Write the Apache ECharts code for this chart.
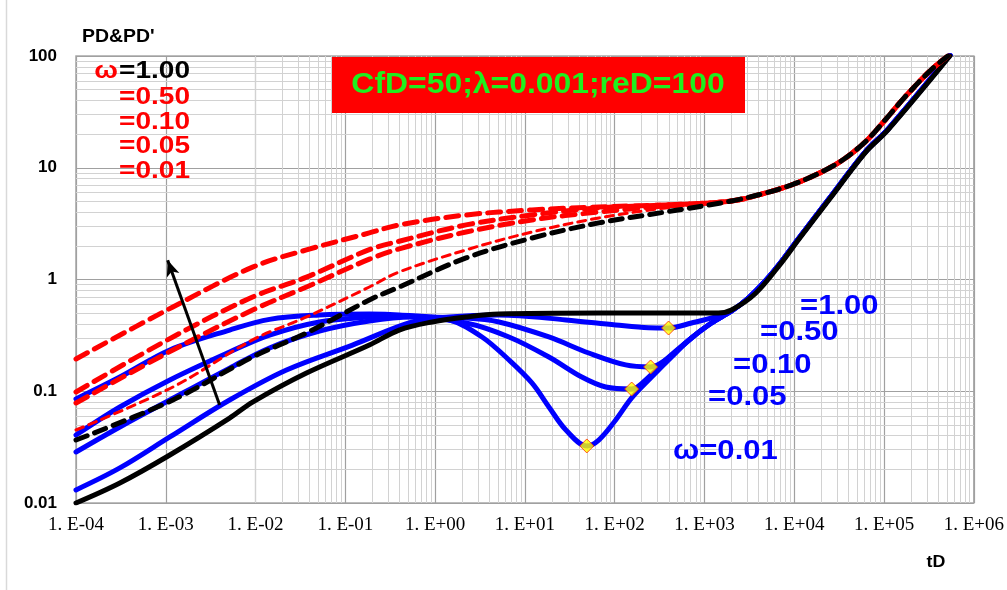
<!DOCTYPE html>
<html>
<head>
<meta charset="utf-8">
<script src="https://cdn.jsdelivr.net/npm/echarts@6/dist/echarts.min.js"></script>
<style>html,body{margin:0;padding:0;background:#fff}#c{width:1007px;height:590px}</style>
</head>
<body>
<div id="c"></div>
<script>
// ---------- tick labels ----------
const xTickLabels = ['1. E-04','1. E-03','1. E-02','1. E-01','1. E+00','1. E+01','1. E+02','1. E+03','1. E+04','1. E+05','1. E+06'];
const yTickLabels = ['0.01','0.1','1','10','100'];

// ---------- derivative curves (PD') ----------
const dX_w100 = [1e-4, 3.08e-4, 1.11e-3, 5.14e-3, 9.26e-3, 0.0369, 0.185, 0.398, 0.926, 2.21, 5.14, 66.4, 1430, 1995, 3690, 7170, 11080, 25770, 61500, 110700, 541000];
const dY_w100 = [0.0100, 0.0151, 0.0269, 0.0575, 0.080, 0.1455, 0.259, 0.353, 0.417, 0.462, 0.491, 0.501, 0.501, 0.533, 0.75, 1.41, 2.26, 5.47, 13.6, 21.8, 100];

const dX_w050 = [1e-4, 3.08e-4, 1.11e-3, 5.14e-3, 0.0221, 0.120, 0.555, 1.43, 5.14, 28.6, 102.6, 238.8, 398.1, 717.1, 1325, 1995, 3083, 4762, 7170, 11080, 25770, 61500, 110700, 541000];
const dY_w050 = [0.0131, 0.0206, 0.039, 0.0835, 0.155, 0.259, 0.417, 0.462, 0.481, 0.435, 0.392, 0.370, 0.368, 0.408, 0.462, 0.522, 0.683, 0.97, 1.44, 2.30, 5.58, 13.8, 22.2, 102];

const dX_w010 = [1e-4, 3.08e-4, 1.11e-3, 5.14e-3, 0.0143, 0.0514, 0.185, 0.555, 2.21, 5.14, 18.5, 51.4, 132.5, 251.2, 368.6, 717.1, 1196, 1995, 3083, 4762, 7170, 11080, 25770, 61500, 110700, 541000];
const dY_w010 = [0.0286, 0.0479, 0.0835, 0.161, 0.244, 0.346, 0.426, 0.462, 0.452, 0.417, 0.306, 0.220, 0.172, 0.165, 0.1905, 0.300, 0.408, 0.522, 0.683, 0.97, 1.44, 2.30, 5.58, 13.8, 22.2, 102];

const dX_w005 = [1e-4, 3.08e-4, 1.11e-3, 5.14e-3, 0.0143, 0.0514, 0.185, 0.398, 2.21, 6.64, 18.5, 43.0, 79.4, 154.5, 238.8, 368.6, 717.1, 1196, 1995, 3083, 4762, 7170, 11080, 25770, 61500, 110700, 541000];
const dY_w005 = [0.0406, 0.0723, 0.1262, 0.2245, 0.318, 0.417, 0.462, 0.471, 0.408, 0.306, 0.2025, 0.134, 0.1091, 0.1047, 0.134, 0.1905, 0.300, 0.408, 0.522, 0.683, 0.97, 1.44, 2.30, 5.58, 13.8, 22.2, 102];

const dX_w001 = [1e-4, 3.08e-4, 1.11e-3, 5.14e-3, 0.0143, 0.0514, 0.185, 0.398, 1.43, 3.33, 6.64, 11.96, 18.5, 28.6, 48.9, 66.4, 102.6, 154.5, 257.6, 429.9, 717.1, 1196, 1995, 3083, 4762, 7170, 11080, 25770, 61500, 110700, 541000];
const dY_w001 = [0.0853, 0.134, 0.234, 0.353, 0.44, 0.481, 0.491, 0.481, 0.435, 0.306, 0.1905, 0.1186, 0.0723, 0.045, 0.0324, 0.0366, 0.0553, 0.0871, 0.134, 0.2025, 0.300, 0.408, 0.522, 0.683, 0.97, 1.44, 2.30, 5.58, 13.8, 22.2, 102];

// ---------- pressure curves (PD) ----------
const pX = [1e-4, 1.20e-3, 9.26e-3, 0.0369, 0.185, 0.398, 2.21, 11.96, 66.4, 368.6, 1995, 4762, 9260, 17100, 33300, 61500, 102600, 171000, 333000, 514000];
const pY_w001 = [0.1945, 0.568, 1.29, 1.84, 2.61, 3.08, 3.78, 4.19, 4.46, 4.65, 5.04, 5.94, 7.01, 8.6, 11.5, 17.0, 26.7, 43.0, 75.0, 100];
const pY_w005 = [0.0985, 0.306, 0.697, 1.05, 1.85, 2.2, 3.08, 3.78, 4.37, 4.65, 5.04, 5.94, 7.01, 8.6, 11.5, 17.0, 26.7, 43.0, 75.0, 100];
const pY_w010 = [0.0785, 0.234, 0.533, 0.857, 1.52, 1.88, 2.66, 3.41, 4.02, 4.55, 5.04, 5.94, 7.01, 8.6, 11.5, 17.0, 26.7, 43.0, 75.0, 100];
const pY_w050 = [0.045, 0.1091, 0.288, 0.462, 0.857, 1.17, 1.84, 2.66, 3.55, 4.37, 5.04, 5.94, 7.01, 8.6, 11.5, 17.0, 26.7, 43.0, 75.0, 100];
const pY_w100 = [0.0366, 0.0835, 0.2025, 0.332, 0.656, 0.857, 1.56, 2.35, 3.21, 4.02, 5.04, 5.94, 7.01, 8.6, 11.5, 17.0, 26.7, 43.0, 75.0, 100];

// ---------- dip markers ----------
const dipX = [398.1, 251.2, 154.5, 48.9];
const dipY = [0.368, 0.165, 0.1047, 0.0324];

// ---------- arrow ----------
const arrowFrom = [0.00398, 0.0753];
const arrowTo = [0.00105, 1.49];

// ---------- build ----------
const zip = (xs, ys) => xs.map((x, i) => [x, ys[i]]);
const FONT = '"Liberation Sans", Arial, sans-serif';

// minor log gridlines
const minorV = [], minorH = [];
for (let e = -4; e < 6; e++) for (let k = 2; k <= 9; k++) minorV.push({ xAxis: k * Math.pow(10, e) });
for (let e = -2; e < 2; e++) for (let k = 2; k <= 9; k++) minorH.push({ yAxis: k * Math.pow(10, e) });

function curve(xs, ys, color, width, type, z) {
  return {
    type: 'line', data: zip(xs, ys), showSymbol: false, symbol: 'none',
    smooth: 0.35, z: z, silent: true,
    lineStyle: { color: color, width: width, type: type, cap: 'round', join: 'round' }
  };
}

const series = [
  {
    type: 'line', data: [[1e-4, 0.01]], symbol: 'none', lineStyle: { opacity: 0 }, z: 1, silent: true,
    markLine: {
      z: 1, silent: true, symbol: 'none', label: { show: false }, animation: false,
      lineStyle: { color: '#d2d2d2', width: 1, type: 'solid' },
      emphasis: { disabled: true },
      data: minorV.concat(minorH)
    }
  },
  curve(dX_w050, dY_w050, '#0000ff', 5, 'solid', 3),
  curve(dX_w010, dY_w010, '#0000ff', 5, 'solid', 3),
  curve(dX_w005, dY_w005, '#0000ff', 5, 'solid', 3),
  curve(dX_w001, dY_w001, '#0000ff', 5, 'solid', 3),
  curve(dX_w100, dY_w100, '#000000', 5, 'solid', 4),
  curve(pX, pY_w001, '#ff0000', 5, [13, 8], 5),
  curve(pX, pY_w005, '#ff0000', 5, [13, 8], 5),
  curve(pX, pY_w010, '#ff0000', 5, [13, 8], 5),
  curve(pX, pY_w050, '#ff0000', 3, [8, 6], 5),
  curve(pX, pY_w100, '#000000', 5, [12, 8], 6),
  {
    type: 'line', data: [], symbol: 'none', z: 7, silent: true,
    markLine: {
      z: 7, silent: true, symbol: ['none', 'arrow'], symbolSize: [10, 16], label: { show: false }, animation: false,
      lineStyle: { color: '#000', width: 3, type: 'solid' },
      data: [[{ coord: arrowFrom }, { coord: arrowTo }]]
    }
  },
  {
    type: 'scatter', data: zip(dipX, dipY), symbol: 'diamond', symbolSize: 14, z: 8, silent: true,
    itemStyle: { color: '#ffff00', borderColor: '#ff2a00', borderWidth: 1 }
  }
];

function txt(x, y, text, size, color, align, sx) {
  return {
    type: 'text', x: x, y: y, scaleX: sx || 1, z: 100,
    style: { text: text, font: 'bold ' + size + 'px ' + FONT, fill: color,
      textAlign: align, align: align, textVerticalAlign: 'middle', verticalAlign: 'middle' }
  };
}

const graphic = [
  { type: 'line', shape: { x1: 6.5, y1: 0, x2: 6.5, y2: 590 }, style: { stroke: '#d9d9d9', lineWidth: 1.5 }, z: 0 },
  { type: 'rect', shape: { x: 332, y: 57, width: 413, height: 56 }, style: { fill: '#ff0000' }, z: 90 },
  {
    type: 'text', x: 538, y: 85, scaleX: 1.1, z: 100,
    style: { text: 'CfD=50;λ=0.001;reD=100', font: 'bold 29px ' + FONT, fill: '#1ef01e',
      textAlign: 'center', align: 'center', textVerticalAlign: 'middle', verticalAlign: 'middle',
      shadowColor: 'rgba(0,0,0,0.6)', shadowBlur: 2, shadowOffsetX: 2, shadowOffsetY: 2 }
  },
  txt(82, 37, "PD&PD'", 18, '#000', 'left', 1.08),
  txt(936, 562, 'tD', 17, '#000', 'center', 1.05),
  txt(118, 72, 'ω', 23, '#ff0000', 'right', 1.22),
  txt(190, 72, '=1.00', 23, '#000000', 'right', 1.22),
  txt(190, 98, '=0.50', 23, '#ff0000', 'right', 1.22),
  txt(190, 123, '=0.10', 23, '#ff0000', 'right', 1.22),
  txt(190, 147, '=0.05', 23, '#ff0000', 'right', 1.22),
  txt(190, 172, '=0.01', 23, '#ff0000', 'right', 1.22),
  txt(800, 307, '=1.00', 27, '#0000ff', 'left', 1.15),
  txt(760, 333, '=0.50', 27, '#0000ff', 'left', 1.15),
  txt(733, 366, '=0.10', 27, '#0000ff', 'left', 1.15),
  txt(708, 398, '=0.05', 27, '#0000ff', 'left', 1.15),
  txt(673, 452, 'ω=0.01', 27, '#0000ff', 'left', 1.15)
];

const chart = echarts.init(document.getElementById('c'), null, { renderer: 'canvas' });
chart.setOption({
  animation: false,
  backgroundColor: '#ffffff',
  grid: { left: 76, top: 56, width: 900, height: 447, show: true, borderColor: '#a8a8a8', borderWidth: 1.5, backgroundColor: 'transparent' },
  xAxis: {
    type: 'log', logBase: 10, min: 1e-4, max: 1e6, splitNumber: 10,
    axisLine: { show: false }, axisTick: { show: false },
    splitLine: { show: true, lineStyle: { color: '#a0a0a0', width: 1.2 } },
    axisLabel: {
      margin: 13, color: '#000', fontSize: 19, fontFamily: '"Liberation Serif", serif',
      formatter: v => xTickLabels[Math.round(Math.log10(v)) + 4]
    }
  },
  yAxis: {
    type: 'log', logBase: 10, min: 0.01, max: 100, splitNumber: 4,
    axisLine: { show: false }, axisTick: { show: false },
    splitLine: { show: true, lineStyle: { color: '#a0a0a0', width: 1.2 } },
    axisLabel: {
      margin: 19, color: '#000', fontSize: 17, fontWeight: 'bold', fontFamily: FONT,
      formatter: v => yTickLabels[Math.round(Math.log10(v)) + 2]
    }
  },
  series: series,
  graphic: graphic
});
</script>
</body>
</html>
